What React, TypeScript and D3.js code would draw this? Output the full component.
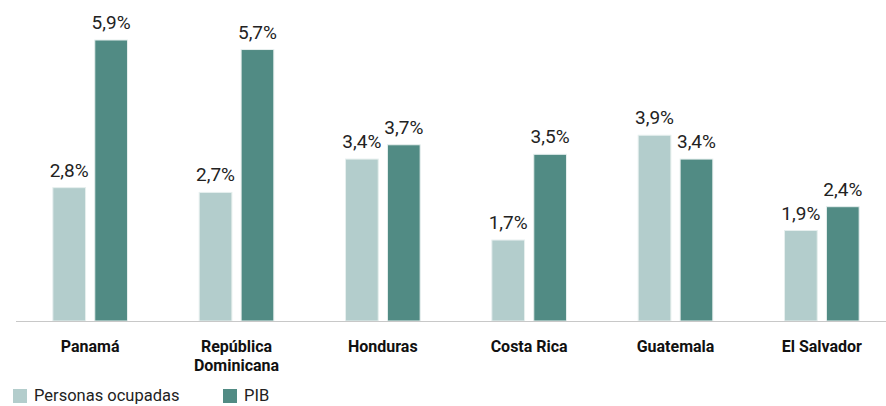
import { useEffect, useRef } from 'react';
import * as d3 from 'd3';

const paises = ['Panamá', 'República Dominicana', 'Honduras', 'Costa Rica', 'Guatemala', 'El Salvador'];
const ocupadas = [2.8, 2.7, 3.4, 1.7, 3.9, 1.9];
const pib = [5.9, 5.7, 3.7, 3.5, 3.4, 2.4];
const series = ['Personas ocupadas', 'PIB'];
const colores = ['#b3cdcc', '#518b84'];

const App = (): JSX.Element => {
  const svgRef = useRef<SVGSVGElement>(null);

  useEffect(() => {
    const width = 886;
    const height = 406;
    const baseline = 321;
    const font = 'Roboto, "Noto Sans", sans-serif';

    const svg = d3.select(svgRef.current);

    const x0 = d3.scaleBand<string>()
      .domain(paises)
      .range([17, 895])
      .paddingInner(0.49)
      .paddingOuter(0.245);

    const x1 = d3.scaleBand<string>()
      .domain(series)
      .range([0, x0.bandwidth()])
      .paddingInner(0.22);

    const y = d3.scaleLinear().domain([0, 5.9]).range([baseline, 40]);

    const rows = paises.map((p, i) => ({ pais: p, valores: [ocupadas[i], pib[i]] }));

    const groups = svg.selectAll('g.grupo')
      .data(rows)
      .enter()
      .append('g')
      .attr('class', 'grupo')
      .attr('transform', d => `translate(${x0(d.pais)},0)`);

    const bars = groups.selectAll('g.bar')
      .data(d => d.valores.map((v, j) => ({ serie: series[j], v, j })))
      .enter()
      .append('g')
      .attr('class', 'bar');

    bars.append('rect')
      .attr('x', d => x1(d.serie)!)
      .attr('y', d => y(d.v))
      .attr('width', x1.bandwidth())
      .attr('height', d => baseline - y(d.v))
      .attr('fill', d => colores[d.j])
      .attr('stroke', '#e6efee')
      .attr('stroke-width', 1);

    bars.append('text')
      .attr('x', d => x1(d.serie)! + x1.bandwidth() / 2)
      .attr('y', d => y(d.v) - 11)
      .attr('text-anchor', 'middle')
      .attr('font-family', font)
      .attr('font-size', 19)
      .attr('fill', '#222')
      .text(d => d3.format('.1f')(d.v).replace('.', ',') + '%');

    // eje
    svg.append('line')
      .attr('x1', 16)
      .attr('x2', width)
      .attr('y1', baseline + 0.5)
      .attr('y2', baseline + 0.5)
      .attr('stroke', '#c8c8c8')
      .attr('stroke-width', 1);

    // etiquetas de categoria
    const labels = svg.selectAll('text.cat')
      .data(paises)
      .enter()
      .append('text')
      .attr('class', 'cat')
      .attr('text-anchor', 'middle')
      .attr('font-family', font)
      .attr('font-weight', 'bold')
      .attr('font-size', 16)
      .attr('fill', '#111');

    labels.each(function (d) {
      const el = d3.select(this);
      const parts = d === 'República Dominicana' ? ['República', 'Dominicana'] : [d];
      parts.forEach((t, k) => {
        el.append('tspan')
          .attr('x', x0(d)! + x0.bandwidth() / 2)
          .attr('y', 352 + k * 19)
          .text(t);
      });
    });

    // leyenda
    const legX = [13, 223];
    const leg = svg.selectAll('g.leg')
      .data(series)
      .enter()
      .append('g')
      .attr('class', 'leg')
      .attr('transform', (_d, i) => `translate(${legX[i]},389)`);

    leg.append('rect')
      .attr('width', 14)
      .attr('height', 14)
      .attr('fill', (_d, i) => colores[i]);

    leg.append('text')
      .attr('x', 21)
      .attr('y', 12)
      .attr('font-family', font)
      .attr('font-size', 16.5)
      .attr('fill', '#222')
      .text(d => d);

    svg.attr('width', width).attr('height', height);

    return () => {
      d3.select(svgRef.current).selectAll('*').remove();
    };
  }, []);

  return (
    <svg ref={svgRef} style={{ position: 'absolute', left: 0, top: 0, background: '#fff' }}></svg>
  );
};

export default App;
